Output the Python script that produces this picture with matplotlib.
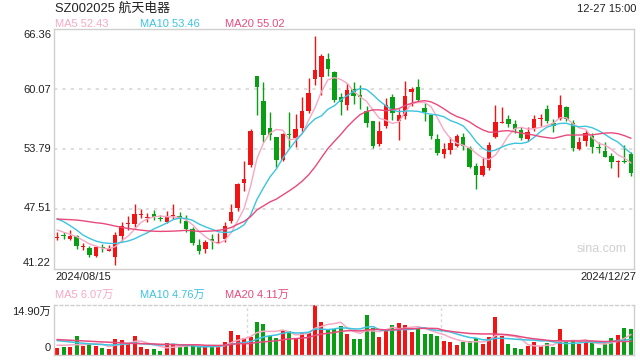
import numpy as np
import pandas as pd
import matplotlib
matplotlib.use("Agg")
import matplotlib.pyplot as plt

plt.rcParams['font.family'] = ['Liberation Sans', 'Noto Sans CJK SC', 'DejaVu Sans']

title = "SZ002025 航天电器"
time_label = "12-27 15:00"
date_start = "2024/08/15"
date_end = "2024/12/27"

opens = [44.50, 44.78, 44.39, 44.68, 43.55, 43.48, 42.64, 43.55, 43.17, 42.54,
         44.74, 45.95, 45.93, 46.90, 46.62, 46.98, 46.60, 46.21, 46.82, 46.80,
         46.28, 45.41, 43.77, 43.35, 44.39, 44.02, 44.36, 46.28, 47.67, 50.29,
         52.15, 61.47, 58.85, 55.99, 55.05, 52.67, 55.35, 55.01, 56.05, 57.80,
         61.12, 61.40, 63.25, 61.89, 59.24, 58.43, 60.07, 59.51, 57.80, 56.75,
         54.35, 56.23, 59.24, 56.79, 57.31, 59.82, 60.28, 58.08, 57.38, 54.87,
         53.30, 53.72, 54.17, 55.05, 53.89, 52.04, 51.10, 51.80, 55.05, 56.58,
         56.93, 56.41, 55.81, 54.84, 56.05, 56.98, 57.98, 56.51, 56.93, 58.19,
         56.51, 53.79, 54.69, 55.18, 54.00, 53.64, 53.09, 52.43, 52.55, 53.30]
highs = [45.10, 45.10, 45.34, 44.81, 43.94, 43.69, 43.69, 43.87, 43.77, 45.10,
         46.21, 46.83, 48.03, 47.51, 47.09, 47.43, 46.91, 47.33, 48.06, 47.26,
         46.91, 45.68, 44.36, 44.29, 44.92, 45.05, 46.21, 48.06, 50.29, 52.56,
         55.92, 61.50, 60.84, 57.73, 55.12, 55.45, 57.70, 57.49, 59.30, 61.23,
         65.66, 63.77, 63.91, 62.00, 59.72, 60.70, 60.81, 60.53, 58.33, 56.80,
         56.79, 59.13, 59.58, 57.98, 60.94, 60.29, 61.12, 58.60, 57.45, 55.36,
         54.42, 55.05, 55.39, 55.45, 54.13, 52.32, 52.95, 54.55, 58.43, 58.25,
         57.38, 56.86, 56.17, 56.17, 57.38, 57.48, 58.43, 56.93, 59.48, 58.33,
         56.86, 55.05, 55.81, 55.46, 54.59, 54.59, 53.45, 52.67, 54.24, 53.54]
lows = [44.29, 44.36, 44.29, 43.35, 43.24, 42.54, 42.48, 43.00, 43.14, 41.62,
        44.18, 45.34, 45.68, 46.63, 46.21, 46.35, 46.31, 46.11, 46.46, 46.04,
        45.16, 43.77, 42.82, 42.90, 43.32, 43.94, 44.05, 46.11, 47.36, 49.42,
        51.97, 57.38, 54.59, 54.76, 51.97, 52.60, 54.06, 54.06, 55.63, 57.56,
        60.53, 59.48, 61.47, 58.78, 57.38, 57.91, 58.50, 57.98, 56.09, 53.89,
        54.17, 55.99, 56.86, 54.76, 56.93, 58.33, 58.90, 56.79, 54.87, 53.19,
        52.91, 53.30, 54.06, 53.72, 51.80, 49.63, 51.00, 51.64, 54.94, 56.52,
        56.17, 55.53, 54.76, 54.69, 55.75, 56.20, 56.58, 55.57, 56.86, 56.79,
        53.64, 53.72, 54.13, 53.45, 53.45, 52.95, 51.81, 50.86, 52.31, 51.03]
closes = [44.60, 44.70, 44.68, 43.69, 43.62, 42.72, 43.59, 43.50, 43.35, 44.81,
          45.76, 46.10, 47.01, 47.00, 46.70, 46.73, 46.54, 46.67, 46.90, 46.46,
          45.44, 44.01, 43.17, 44.05, 44.18, 44.10, 45.76, 47.25, 50.15, 50.68,
          55.74, 60.35, 55.29, 55.29, 52.67, 55.36, 55.25, 55.92, 57.80, 59.72,
          62.10, 63.56, 62.17, 58.95, 58.78, 60.00, 59.40, 59.30, 56.58, 54.17,
          55.71, 58.43, 57.62, 57.38, 59.37, 60.11, 58.95, 57.67, 55.21, 53.43,
          53.82, 54.48, 55.18, 54.17, 51.97, 51.10, 52.04, 54.24, 56.62, 56.65,
          56.41, 55.88, 54.94, 55.63, 56.93, 57.08, 56.79, 56.23, 58.43, 56.93,
          53.96, 54.59, 55.53, 54.06, 53.92, 53.01, 52.49, 52.58, 52.45, 51.28]
# volume in 万 (10k shares)
volumes = [2.09, 2.38, 2.48, 5.66, 2.68, 3.18, 2.68, 2.09, 1.79, 4.77,
           4.47, 3.58, 5.66, 2.38, 1.79, 1.79, 1.19, 3.58, 3.28, 2.58,
           2.68, 2.68, 2.48, 2.48, 2.48, 2.48, 3.87, 7.15, 5.96, 4.97,
           5.46, 9.83, 9.24, 5.66, 5.07, 7.45, 7.05, 4.77, 6.56, 6.56,
           14.90, 9.83, 7.75, 7.75, 8.64, 6.26, 4.77, 4.77, 11.92, 8.05,
           5.36, 7.25, 8.94, 9.54, 8.94, 6.85, 8.05, 6.26, 6.26, 5.66,
           4.17, 3.87, 2.98, 3.87, 4.27, 4.97, 3.28, 5.36, 11.32, 5.66,
           3.28, 2.09, 1.79, 2.68, 3.87, 2.68, 3.58, 2.38, 7.75, 3.87,
           4.17, 3.28, 3.87, 3.58, 2.09, 3.58, 5.07, 5.96, 8.05, 7.75]

# moving-average values before a full window is available
ma5_head = [45.34, 45.10, 44.89, 44.64]
ma10_head = [46.49, 46.21, 45.79, 45.34, 44.81, 44.46, 44.18, 44.01, 43.94]
ma20_head = [46.49, 46.45, 46.42, 46.38, 46.30, 46.20, 46.10, 46.03, 45.90, 45.75,
             45.61, 45.50, 45.41, 45.32, 45.25, 45.21, 45.19, 45.20, 45.22]
vma5_head = [2.9, 2.9, 3.0, 3.1]
vma10_head = [4.3, 4.1, 3.9, 3.7, 3.5, 3.35, 3.2, 3.1, 3.0]
vma20_head = [4.6, 4.5, 4.4, 4.3, 4.2, 4.1, 4.0, 3.9, 3.8, 3.7,
              3.6, 3.5, 3.45, 3.4, 3.35, 3.3, 3.2, 3.15, 3.1]

price_ticks = [66.36, 60.07, 53.79, 47.51, 41.22]
vol_max_label = "14.90万"

RED = "#f01414"
GREEN = "#0a9e14"
C_MA5 = "#f7a8c4"
C_MA10 = "#3cc4e0"
C_MA20 = "#e84a7c"
GRID = "#d8d8d8"
BORDER = "#cfcfcf"
TXT = "#222222"


def ma(values, n, head):
    s = pd.Series(values).rolling(n).mean().to_numpy()
    s[:len(head)] = head
    return s


c = np.array(closes)
o = np.array(opens)
h = np.array(highs)
l = np.array(lows)
v = np.array(volumes)
x = np.arange(len(c))
up = c >= o
colors = np.where(up, RED, GREEN)

W, H = 640, 360
fig = plt.figure(figsize=(6.4, 3.6), dpi=100)


def ax_px(left, top, right, bottom):
    return fig.add_axes([left / W, 1 - bottom / H, (right - left) / W, (bottom - top) / H])


def ftext(px, py, s, **kw):
    fig.text(px / W, 1 - py / H, s, va="center", **kw)


ax = ax_px(54, 29.3, 634, 269.3)
axv = ax_px(54, 305, 634, 355)

# ---- price panel ----
ax.set_xlim(-0.5, len(c) - 0.5)
ax.set_ylim(price_ticks[-1], price_ticks[0])
for t in price_ticks[1:-1]:
    ax.axhline(t, color=GRID, lw=1.2, ls=(0, (2, 3)), zorder=0)
ax.vlines(x, l, h, colors=colors, lw=1.0, zorder=2)
body_h = np.maximum(np.abs(c - o), 0.08)
ax.bar(x, body_h, bottom=np.minimum(o, c), width=0.7, color=colors, lw=0, zorder=3)
ax.plot(x, ma(closes, 5, ma5_head), color=C_MA5, lw=1.0, zorder=4)
ax.plot(x, ma(closes, 10, ma10_head), color=C_MA10, lw=1.0, zorder=4)
ax.plot(x, ma(closes, 20, ma20_head), color=C_MA20, lw=1.0, zorder=4)
ax.set_xticks([])
ax.set_yticks([])
for sp in ax.spines.values():
    sp.set_color(BORDER)
    sp.set_linewidth(1.0)
ax.text(0.945, 0.085, "sina.com", transform=ax.transAxes, ha="center", va="center",
        color="#d0d0d0", fontsize=9)

# ---- volume panel ----
axv.set_xlim(-0.5, len(c) - 0.5)
axv.set_ylim(0, max(volumes))
axv.bar(x, v, width=0.62, color=colors, lw=0, zorder=2)
axv.plot(x, ma(volumes, 5, vma5_head), color=C_MA5, lw=1.1, zorder=3)
axv.plot(x, ma(volumes, 10, vma10_head), color=C_MA10, lw=1.1, zorder=3)
axv.plot(x, ma(volumes, 20, vma20_head), color=C_MA20, lw=1.1, zorder=3)
for xv in [29.5, 59.5]:
    axv.axvline(xv, color=GRID, lw=1.0, ls=(0, (2, 2)), zorder=0)
axv.set_xticks([])
axv.set_yticks([])
for name, sp in axv.spines.items():
    sp.set_color(BORDER)
    sp.set_linewidth(1.0)
axv.spines['top'].set_linestyle((0, (2, 2)))

# ---- texts ----
ftext(55, 9, title, fontsize=9.3, color=TXT, ha="left")
ftext(636, 9, time_label, fontsize=8, color=TXT, ha="right")

ftext(55, 24, "MA5 52.43", fontsize=8, color=C_MA5, ha="left")
ftext(140, 24, "MA10 53.46", fontsize=8, color=C_MA10, ha="left")
ftext(225, 24, "MA20 55.02", fontsize=8, color=C_MA20, ha="left")

label_y = [35, 90, 149, 208, 263]
for t, py in zip(price_ticks, label_y):
    ftext(51, py, f"{t:.2f}", fontsize=8, color=TXT, ha="right")

ftext(55, 277, date_start, fontsize=8, color=TXT, ha="left")
ftext(636, 277, date_end, fontsize=8, color=TXT, ha="right")

ftext(55, 295, "MA5 6.07万", fontsize=8, color=C_MA5, ha="left")
ftext(140, 295, "MA10 4.76万", fontsize=8, color=C_MA10, ha="left")
ftext(225, 295, "MA20 4.11万", fontsize=8, color=C_MA20, ha="left")

ftext(51, 312, vol_max_label, fontsize=8, color=TXT, ha="right")
ftext(51, 348, "0", fontsize=8, color=TXT, ha="right")

fig.savefig("out.png", dpi=100)
